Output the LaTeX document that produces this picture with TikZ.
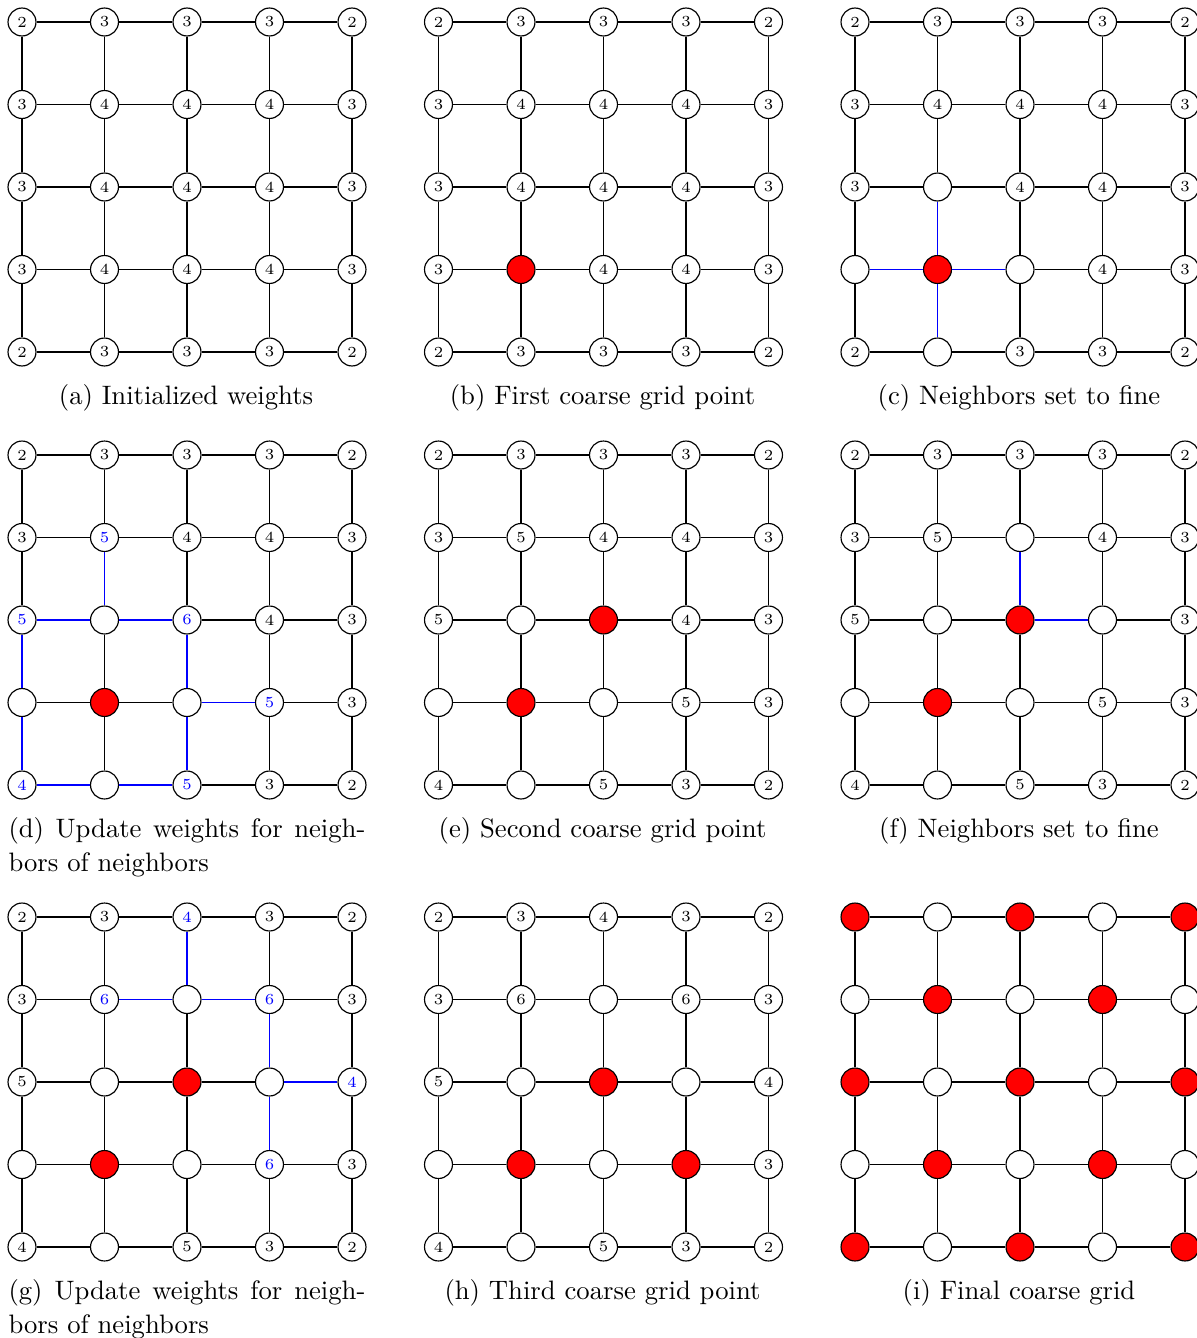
\documentclass[tikz,border=0pt]{standalone}
\usepackage{tikz}
\tikzset{
  gn/.style={circle, draw=black, line width=0.45pt, fill=white, minimum size=10.9pt, inner sep=0pt, font=\fontsize{6}{7}\selectfont},
  gw/.style={gn},
  gb/.style={gn, text=blue},
  gf/.style={gn},
  gr/.style={gn, fill=red},
  ge/.style={line width=0.42pt, draw=black},
  be/.style={line width=0.42pt, draw=blue},
  capt/.style={anchor=base, inner sep=0pt, font=\fontsize{10.4}{12.1}\selectfont},
}
\newcommand\gridpanel[4]{%
  \foreach \rowdata [count=\r from 0] in {#4} {
    \foreach \s/\t [count=\c from 0] in \rowdata {
      \node[\s] (#1-\c-\r) at ({#2+82.5*\c},{#3+82.5*\r}) {\t};
    }
  }
  \foreach \r in {0,...,4} {
    \foreach \c [evaluate=\c as \cn using int(\c+1)] in {0,...,3} {
      \draw[ge] (#1-\c-\r) -- (#1-\cn-\r);
      \draw[ge] (#1-\r-\c) -- (#1-\r-\cn);
    }
  }
}
\newcommand\blueedges[2]{%
  \foreach \ea/\eb in {#2} { \draw[be] (#1-\ea) -- (#1-\eb); }
}
\newcommand\twolinecap[1]{\parbox[t]{139.2pt}{\fontsize{10.4}{13.6}\selectfont #1}}
\begin{document}
\begin{tikzpicture}[x=0.39pt, y=-0.39pt]
\useasboundingbox (0,0) rectangle (1196,1338);
% (a)
\gridpanel{a}{22}{22}{{gw/2,gw/3,gw/3,gw/3,gw/2},{gw/3,gw/4,gw/4,gw/4,gw/3},{gw/3,gw/4,gw/4,gw/4,gw/3},{gw/3,gw/4,gw/4,gw/4,gw/3},{gw/2,gw/3,gw/3,gw/3,gw/2}}
% (b)
\gridpanel{b}{438.5}{22}{{gw/2,gw/3,gw/3,gw/3,gw/2},{gw/3,gw/4,gw/4,gw/4,gw/3},{gw/3,gw/4,gw/4,gw/4,gw/3},{gw/3,gr/,gw/4,gw/4,gw/3},{gw/2,gw/3,gw/3,gw/3,gw/2}}
% (c)
\gridpanel{c}{855}{22}{{gw/2,gw/3,gw/3,gw/3,gw/2},{gw/3,gw/4,gw/4,gw/4,gw/3},{gw/3,gf/,gw/4,gw/4,gw/3},{gf/,gr/,gf/,gw/4,gw/3},{gw/2,gf/,gw/3,gw/3,gw/2}}
\blueedges{c}{1-3/0-3,1-3/2-3,1-3/1-2,1-3/1-4}
% (d)
\gridpanel{d}{22}{455}{{gw/2,gw/3,gw/3,gw/3,gw/2},{gw/3,gb/5,gw/4,gw/4,gw/3},{gb/5,gf/,gb/6,gw/4,gw/3},{gf/,gr/,gf/,gb/5,gw/3},{gb/4,gf/,gb/5,gw/3,gw/2}}
\blueedges{d}{1-2/1-1,1-2/0-2,1-2/2-2,0-3/0-2,0-3/0-4,2-3/2-2,2-3/3-3,2-3/2-4,1-4/0-4,1-4/2-4}
% (e)
\gridpanel{e}{438.5}{455}{{gw/2,gw/3,gw/3,gw/3,gw/2},{gw/3,gw/5,gw/4,gw/4,gw/3},{gw/5,gf/,gr/,gw/4,gw/3},{gf/,gr/,gf/,gw/5,gw/3},{gw/4,gf/,gw/5,gw/3,gw/2}}
% (f)
\gridpanel{f}{855}{455}{{gw/2,gw/3,gw/3,gw/3,gw/2},{gw/3,gw/5,gf/,gw/4,gw/3},{gw/5,gf/,gr/,gf/,gw/3},{gf/,gr/,gf/,gw/5,gw/3},{gw/4,gf/,gw/5,gw/3,gw/2}}
\blueedges{f}{2-2/2-1,2-2/3-2}
% (g)
\gridpanel{g}{22}{917}{{gw/2,gw/3,gb/4,gw/3,gw/2},{gw/3,gb/6,gf/,gb/6,gw/3},{gw/5,gf/,gr/,gf/,gb/4},{gf/,gr/,gf/,gb/6,gw/3},{gw/4,gf/,gw/5,gw/3,gw/2}}
\blueedges{g}{2-1/2-0,2-1/1-1,2-1/3-1,3-2/3-1,3-2/4-2,3-2/3-3}
% (h)
\gridpanel{h}{438.5}{917}{{gw/2,gw/3,gw/4,gw/3,gw/2},{gw/3,gw/6,gf/,gw/6,gw/3},{gw/5,gf/,gr/,gf/,gw/4},{gf/,gr/,gf/,gr/,gw/3},{gw/4,gf/,gw/5,gw/3,gw/2}}
% (i)
\gridpanel{i}{855}{917}{{gr/,gf/,gr/,gf/,gr/},{gf/,gr/,gf/,gr/,gf/},{gr/,gf/,gr/,gf/,gr/},{gf/,gr/,gf/,gr/,gf/},{gr/,gf/,gr/,gf/,gr/}}
% captions
\node[capt] (capa) at (186,404) {(a) Initialized weights};
\node[capt] (capb) at (602.5,404) {(b) First coarse grid point};
\node[capt] (capc) at (1019,404) {(c) Neighbors set to fine};
\node[capt, anchor=base west] (capd) at (8,837) {\twolinecap{(d) Update weights for neigh-\linebreak bors of neighbors}};
\node[capt] (cape) at (602.5,837) {(e) Second coarse grid point};
\node[capt] (capf) at (1019,837) {(f) Neighbors set to fine};
\node[capt, anchor=base west] (capg) at (8,1299) {\twolinecap{(g) Update weights for neigh-\linebreak bors of neighbors}};
\node[capt] (caph) at (602.5,1299) {(h) Third coarse grid point};
\node[capt] (capi) at (1019,1299) {(i) Final coarse grid};
\end{tikzpicture}
\end{document}
